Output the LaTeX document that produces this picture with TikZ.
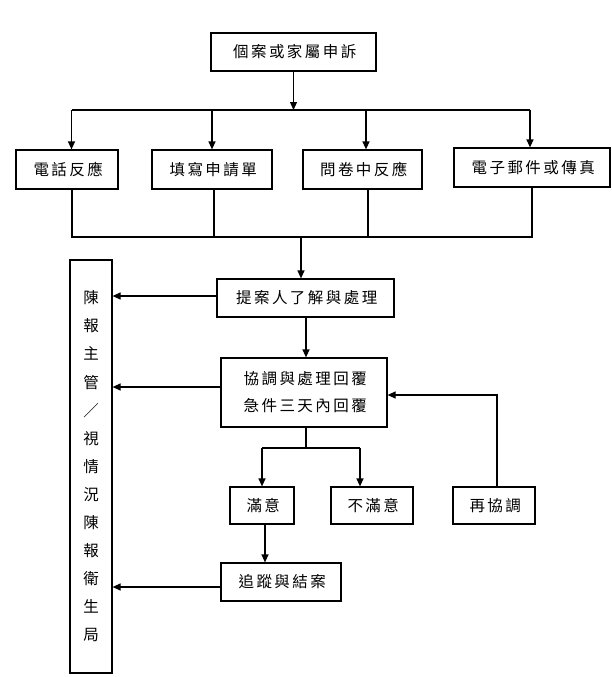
\documentclass[tikz,border=0pt]{standalone}
\usepackage{fontspec}
\usetikzlibrary{arrows.meta}
\newfontfamily\cjk[LetterSpace=16]{Noto Sans CJK TC}
\newfontfamily\cjkplain{Noto Sans CJK TC}
\newcommand\ldk{\kern2.5pt}
\tikzset{
  box/.style={draw, line width=1.2pt, inner sep=0pt, font=\cjk\fontsize{15.5}{27}\selectfont, text=black},
  arr/.style={-{Triangle[length=8pt,width=7pt]}, line width=1.2pt},
  ln/.style={line width=1.2pt},
}
\begin{document}
\begin{tikzpicture}[x=1pt,y=-1pt]
\useasboundingbox (0,0) rectangle (612,677);
% nodes
\node[box, minimum width=165, minimum height=38] (top) at (293.5,52) {\ldk 個案或家屬申訴};
\node[box, minimum width=102, minimum height=39] (b1) at (67,169.5) {\ldk 電話反應};
\node[box, minimum width=120, minimum height=39] (b2) at (212,169.5) {\ldk 填寫申請單};
\node[box, minimum width=119, minimum height=39] (b3) at (362.5,169.5) {\ldk 問卷中反應};
\node[box, minimum width=156, minimum height=39] (b4) at (532,167.5) {\ldk 電子郵件或傳真};
\node[box, minimum width=177, minimum height=38] (p) at (305.5,298) {\ldk 提案人了解與處理};
\node[box, minimum width=166, minimum height=69, align=left] (c) at (304,392.5) {\ldk 協調與處理回覆\\\ldk 急件三天內回覆};
\node[box, minimum width=64, minimum height=37] (s1) at (262,505.5) {\ldk 滿意};
\node[box, minimum width=82, minimum height=37] (s2) at (372,505.5) {\ldk 不滿意};
\node[box, minimum width=82, minimum height=37] (s3) at (494,505.5) {\ldk 再協調};
\node[box, minimum width=120, minimum height=38] (f) at (281,582) {\ldk 追蹤與結案};
\node[box, minimum width=42, minimum height=413, align=center, font=\cjkplain\fontsize{15.5}{28.1}\selectfont] (v) at (91,466.5)
  {陳\\報\\主\\管\\／\\視\\情\\況\\陳\\報\\衛\\生\\局};
% top bus
\coordinate (bt) at (293.5,110);
\coordinate (t1) at (71.5,110);
\coordinate (t2) at (212,110);
\coordinate (t3) at (366,110);
\coordinate (t4) at (530,110);
\draw[arr] (top.south) -- (bt);
\draw[ln] (t1) -- (t4);
\draw[arr] (t1) -- (t1 |- b1.north);
\draw[arr] (t2) -- (t2 |- b2.north);
\draw[arr] (t3) -- (t3 |- b3.north);
\draw[arr] (t4) -- (t4 |- b4.north);
% bottom bus
\coordinate (u1) at (72,237);
\coordinate (u2) at (214,237);
\coordinate (u3) at (368,237);
\coordinate (u4) at (532,237);
\coordinate (um) at (301,237);
\draw[ln] (u1 |- b1.south) -- (u1) -- (u4) -- (u4 |- b4.south);
\draw[ln] (u2 |- b2.south) -- (u2);
\draw[ln] (u3 |- b3.south) -- (u3);
\draw[arr] (um) -- (um |- p.north);
% to v
\draw[arr] (p.west |- 0,296) -- (v.east |- 0,296);
\draw[arr] (p.south -| 306,0) -- (c.north -| 306,0);
\draw[arr] (c.west |- 0,387) -- (v.east |- 0,387);
% split
\coordinate (k) at (306,448);
\coordinate (k1) at (262,448);
\coordinate (k2) at (360,448);
\draw[ln] (c.south -| k) -- (k);
\draw[ln] (k1) -- (k2);
\draw[arr] (k1) -- (k1 |- s1.north);
\draw[arr] (k2) -- (k2 |- s2.north);
% re-coordinate loop
\coordinate (r) at (497,395);
\draw[arr] (s3.north -| r) -- (r) -- (c.east |- r);
% follow-up
\draw[arr] (s1.south -| 265,0) -- (f.north -| 265,0);
\draw[arr] (f.west |- 0,587) -- (v.east |- 0,587);
\end{tikzpicture}
\end{document}
